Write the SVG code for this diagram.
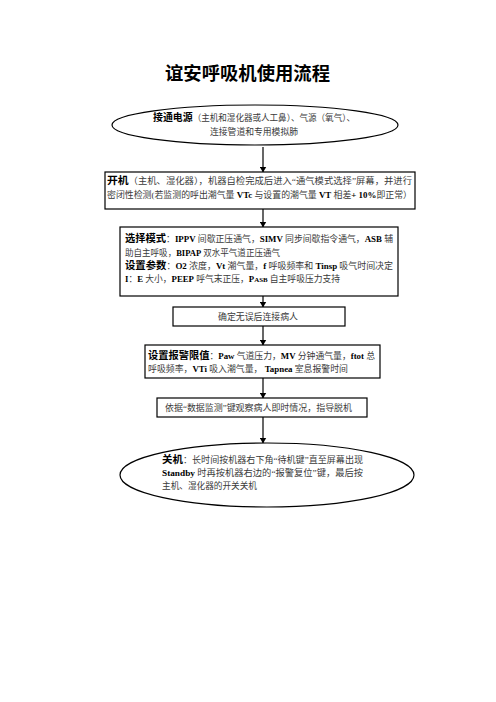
<svg xmlns="http://www.w3.org/2000/svg" width="496" height="702" viewBox="0 0 496 702">
<defs>
<marker id="ah" markerWidth="6" markerHeight="7" refX="5.5" refY="3.5" orient="auto" markerUnits="userSpaceOnUse">
<path d="M0,0 L6,3.5 L0,7 Z" fill="#000"/>
</marker>
<style>
.t{font-family:"Liberation Serif","Noto Sans CJK SC",serif;font-size:8.9px;fill:#3a3a3a}
.b{font-family:"Liberation Serif","Noto Sans CJK SC",serif;font-weight:bold;fill:#000}
.h{font-family:"Liberation Serif","Noto Sans CJK SC",serif;font-weight:bold;fill:#000;font-size:10.3px}
.n{fill:#fff;stroke:#000;stroke-width:1.2}
.c{stroke:#000;stroke-width:1.2;fill:none;marker-end:url(#ah)}
</style>
</defs>
<rect width="496" height="702" fill="#fff"/>
<text x="247.5" y="80" text-anchor="middle" font-family="Liberation Serif, Noto Sans CJK SC, serif" font-weight="bold" font-size="18.3" fill="#000" textLength="165" lengthAdjust="spacingAndGlyphs">谊安呼吸机使用流程</text>

<g id="connectors">
<line class="c" x1="263" y1="147" x2="263" y2="172"/>
<line class="c" x1="263" y1="209" x2="263" y2="227"/>
<line class="c" x1="263" y1="296" x2="263" y2="307"/>
<line class="c" x1="263" y1="326" x2="263" y2="345"/>
<line class="c" x1="263" y1="378" x2="263" y2="398"/>
<line class="c" x1="263" y1="417" x2="263" y2="443"/>
</g>

<g id="n1">
<ellipse class="n" cx="255" cy="125" rx="143" ry="20"/>
<text class="t" x="153" y="121" textLength="202" lengthAdjust="spacingAndGlyphs"><tspan class="h">接通电源</tspan>（主机和湿化器或人工鼻）、气源（氧气）、</text>
<text class="t" x="210" y="134.5" textLength="88" lengthAdjust="spacingAndGlyphs">连接管道和专用模拟肺</text>
</g>

<g id="n2">
<rect class="n" x="105" y="172" width="310" height="37"/>
<text class="t" x="107" y="184" textLength="305" lengthAdjust="spacingAndGlyphs"><tspan class="h">开机</tspan>（主机、湿化器），机器自检完成后进入“通气模式选择”屏幕，并进行</text>
<text class="t" x="107" y="198" textLength="305" lengthAdjust="spacingAndGlyphs">密闭性检测(若监测的呼出潮气量 <tspan class="b">VTc</tspan> 与设置的潮气量 <tspan class="b">VT</tspan> 相差<tspan class="b">+ 10%</tspan>即正常）</text>
</g>

<g id="n3">
<rect class="n" x="120" y="227" width="278" height="69"/>
<text class="t" x="125" y="242" textLength="268" lengthAdjust="spacingAndGlyphs"><tspan class="h">选择模式</tspan>：<tspan class="b">IPPV</tspan> 间歇正压通气，<tspan class="b">SIMV</tspan> 同步间歇指令通气，<tspan class="b">ASB</tspan> 辅</text>
<text class="t" x="125" y="256" textLength="155" lengthAdjust="spacingAndGlyphs">助自主呼吸，<tspan class="b">BIPAP</tspan> 双水平气道正压通气</text>
<text class="t" x="125" y="269" textLength="268" lengthAdjust="spacingAndGlyphs"><tspan class="h">设置参数</tspan>：<tspan class="b">O2</tspan> 浓度，<tspan class="b">Vt</tspan> 潮气量，<tspan class="b">f</tspan> 呼吸频率和 <tspan class="b">Tinsp</tspan> 吸气时间决定</text>
<text class="t" x="125" y="282" textLength="215" lengthAdjust="spacingAndGlyphs"><tspan class="b">I</tspan>：<tspan class="b">E</tspan> 大小，<tspan class="b">PEEP</tspan> 呼气末正压，<tspan class="b">P<tspan font-size="7">ASB</tspan></tspan> 自主呼吸压力支持</text>
</g>

<g id="n4">
<rect class="n" x="173" y="307" width="172" height="19"/>
<text class="t" x="218" y="319.5" textLength="80" lengthAdjust="spacingAndGlyphs">确定无误后连接病人</text>
</g>

<g id="n5">
<rect class="n" x="145" y="345" width="235" height="33"/>
<text class="t" x="148" y="359" textLength="227" lengthAdjust="spacingAndGlyphs"><tspan class="h">设置报警限值</tspan>：<tspan class="b">Paw</tspan> 气道压力，<tspan class="b">MV</tspan> 分钟通气量，<tspan class="b">ftot</tspan> 总</text>
<text class="t" x="148" y="372" textLength="200" lengthAdjust="spacingAndGlyphs">呼吸频率，<tspan class="b">VTi</tspan> 吸入潮气量，  <tspan class="b">Tapnea</tspan> 室息报警时间</text>
</g>

<g id="n6">
<rect class="n" x="157" y="398" width="210" height="19"/>
<text class="t" x="165" y="411" textLength="187" lengthAdjust="spacingAndGlyphs">依据“数据监测”键观察病人即时情况，指导脱机</text>
</g>

<g id="n7">
<ellipse class="n" cx="267" cy="475" rx="147" ry="32"/>
<text class="t" x="162" y="462.5" textLength="201" lengthAdjust="spacingAndGlyphs"><tspan class="h">关机</tspan>：长时间按机器右下角“待机键”直至屏幕出现</text>
<text class="t" x="162" y="476" textLength="201" lengthAdjust="spacingAndGlyphs"><tspan class="b">Standby</tspan> 时再按机器右边的“报警复位”键，最后按</text>
<text class="t" x="162" y="489" textLength="95" lengthAdjust="spacingAndGlyphs">主机、湿化器的开关关机</text>
</g>
</svg>
